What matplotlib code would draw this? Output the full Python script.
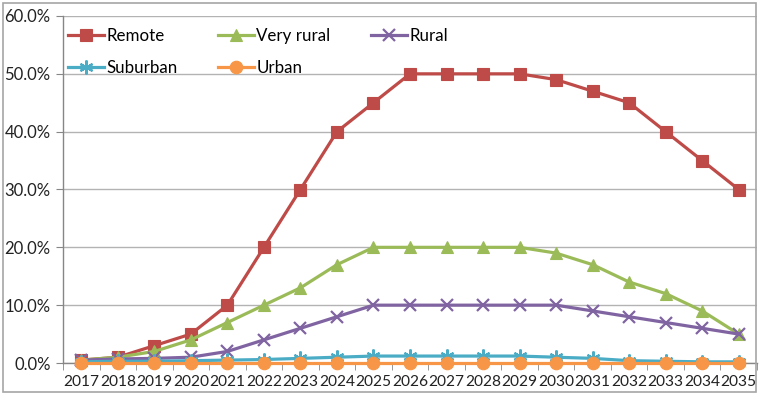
import matplotlib
matplotlib.use("Agg")
import matplotlib.pyplot as plt
from matplotlib.ticker import FuncFormatter, MultipleLocator, FixedLocator
from matplotlib.patches import Rectangle

years = [str(y) for y in range(2017, 2036)]
remote = [0.5, 1, 3, 5, 10, 20, 30, 40, 45, 50, 50, 50, 50, 49, 47, 45, 40, 35, 30]
very_rural = [0.5, 1, 2, 4, 7, 10, 13, 17, 20, 20, 20, 20, 20, 19, 17, 14, 12, 9, 5]
rural = [0.5, 0.7, 0.8, 1, 2, 4, 6, 8, 10, 10, 10, 10, 10, 10, 9, 8, 7, 6, 5]
suburban = [0.2, 0.3, 0.3, 0.4, 0.5, 0.6, 0.8, 1, 1.2, 1.2, 1.2, 1.2, 1.2, 1.0, 0.8, 0.4, 0.3, 0.2, 0.2]
urban = [0] * 19

plt.rcParams['font.family'] = ['Lato', 'DejaVu Sans']

W, H = 759, 395
fig = plt.figure(figsize=(W / 100, H / 100), dpi=100)
fig.patches.append(Rectangle((3 / W, 3 / H), (W - 6) / W, (H - 6) / H, transform=fig.transFigure,
                             fill=False, edgecolor='#a6a6a6', linewidth=1.2))

ax = fig.add_axes([63 / W, 1 - 363 / H, (757 - 63) / W, (363 - 16) / H])
x = list(range(len(years)))

series = [
    ("Remote", remote, '#BE4B48', 's', 9),
    ("Very rural", very_rural, '#9BBB59', '^', 9),
    ("Rural", rural, '#8064A2', 'x', 9),
    ("Suburban", suburban, '#4BACC6', (6, 2, 0), 10),
    ("Urban", urban, '#F79646', 'o', 9),
]
handles = {}
for name, vals, col, mk, ms in series:
    (h,) = ax.plot(x, [v / 100 for v in vals], color=col, marker=mk, markersize=ms,
                   linewidth=2.3, markeredgewidth=1.6 if mk in ('x', (6, 2, 0)) else 0.8,
                   markeredgecolor=col, markerfacecolor=col, label=name, clip_on=False, zorder=3)
    handles[name] = h

ax.set_xlim(-0.5, len(years) - 0.5)
ax.set_ylim(0, 0.6)
ax.yaxis.set_major_locator(MultipleLocator(0.1))
ax.yaxis.set_major_formatter(FuncFormatter(lambda v, p: f"{v * 100:.1f}%"))
ax.set_xticks(x)
ax.set_xticklabels(years)
ax.xaxis.set_minor_locator(FixedLocator([i - 0.5 for i in range(len(years) + 1)]))
ax.tick_params(axis='x', which='major', length=0, pad=9, labelsize=11.2, colors='#222222')
ax.tick_params(axis='x', which='minor', length=5, color='#868686', direction='out')
ax.tick_params(axis='y', which='major', length=5, color='#868686', labelsize=12, colors='#222222', pad=4)
ax.grid(axis='y', color='#b3b3b3', linewidth=1)
ax.set_axisbelow(True)
for s in ('top', 'right'):
    ax.spines[s].set_visible(False)
for s in ('left', 'bottom'):
    ax.spines[s].set_color('#868686')
    ax.spines[s].set_linewidth(1)

order = ["Remote", "Suburban", "Very rural", "Urban", "Rural"]
leg = ax.legend([handles[n] for n in order], order, ncol=3, loc='upper left',
                bbox_to_anchor=(68 / W, 1 - 28 / H), bbox_transform=fig.transFigure,
                frameon=False, fontsize=12.2, handlelength=2.1, handletextpad=0.15,
                columnspacing=2.4, labelspacing=0.95, borderpad=0, borderaxespad=0)

fig.savefig("out.png", dpi=100)
